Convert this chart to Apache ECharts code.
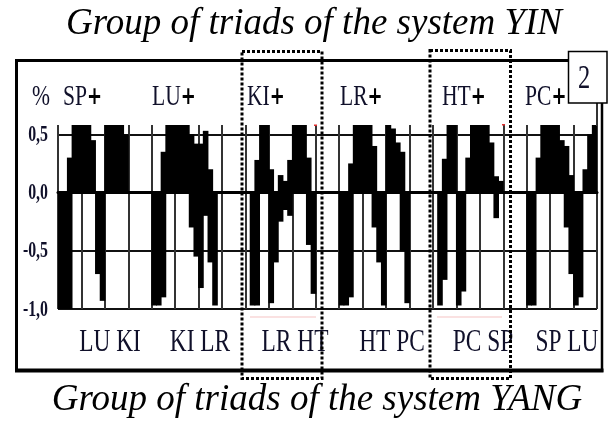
<!DOCTYPE html>
<html>
<head>
<meta charset="utf-8">
<script src="https://cdn.jsdelivr.net/npm/echarts@6/dist/echarts.min.js"></script>
<style>
  html, body { margin: 0; padding: 0; background: #fff; }
  #chart { width: 611px; height: 425px; }
</style>
</head>
<body>
<div id="chart"></div>
<script>
// upper envelope of the signal, one value per step (5 steps per grid cell)
var posValues = [
  0, 0, 0.3, 0.58, 0.58, 0.58, 0.58, 0.45, 0, 0, 0.58, 0.58, 0.58, 0.58, 0.5, 0, 0, 0, 0, 0,
  0, 0, 0.35, 0.58, 0.58, 0.58, 0.58, 0.58, 0.5, 0.42, 0.42, 0.53, 0.2, 0, 0, 0, 0, 0, 0, 0,
  0, 0, 0.28, 0.58, 0.58, 0.2, 0, 0.15, 0.1, 0.28, 0.58, 0.58, 0.58, 0.3, 0, 0, 0, 0, 0, 0,
  0, 0, 0.25, 0.58, 0.58, 0.58, 0.58, 0.4, 0, 0, 0.58, 0.55, 0.43, 0.35, 0, 0, 0, 0, 0, 0,
  0, 0, 0.29, 0.58, 0.58, 0, 0, 0.3, 0.58, 0.58, 0.58, 0.58, 0.43, 0.14, 0.1, 0, 0, 0, 0, 0,
  0, 0, 0.3, 0.58, 0.58, 0.58, 0.58, 0.45, 0.4, 0.15, 0, 0, 0.2, 0.5, 0.58
];
// lower envelope
var negValues = [
  -1, -1, -1, 0, 0, 0, 0, 0, -0.7, -0.93, 0, 0, 0, 0, 0, 0, 0, 0, 0, 0,
  -0.97, -0.97, -0.9, 0, 0, 0, 0, 0, -0.3, -0.55, -0.82, -0.2, -0.6, -0.97, 0, 0, 0, 0, 0, 0,
  0, -0.97, -0.97, 0, 0, -0.95, -0.6, -0.25, -0.15, -0.2, 0, 0, 0, -0.45, -0.87, 0, 0, 0, 0, 0,
  -0.97, -0.97, -0.9, 0, 0, 0, 0, -0.3, -0.6, -0.97, 0, 0, 0, -0.5, -0.95, 0, 0, 0, 0, 0,
  0, -0.97, -0.75, 0, 0, -0.97, -0.85, 0, 0, 0, 0, 0, 0, -0.22, 0, 0, 0, 0, 0, 0,
  -0.97, -0.97, 0, 0, 0, 0, 0, 0, -0.3, -0.7, -0.97, -0.9, 0, 0, 0
];
var yTicks = [0.5, 0, -0.5, -1];
var yinLabels = ['SP', 'LU', 'KI', 'LR', 'HT', 'PC'];
var yangLabels = ['LU KI', 'KI LR', 'LR HT', 'HT PC', 'PC SP', 'SP LU'];

var steps = [];
for (var i = 0; i < posValues.length; i++) steps.push(i);

var chart = echarts.init(document.getElementById('chart'));

// bars slightly wider than a step so neighbours join into solid blocks
var barStyle = { color: '#000' };

chart.setOption({
  animation: false,
  grid: { left: 58, right: 14, top: 125, bottom: 116 },
  xAxis: {
    type: 'category',
    data: steps,
    boundaryGap: true,
    axisLine: { onZero: true, lineStyle: { color: '#000', width: 3 } },
    axisTick: { show: false },
    axisLabel: { show: false },
    splitLine: { show: true, interval: 4, lineStyle: { color: '#333', width: 2 } }
  },
  yAxis: {
    type: 'value',
    min: -1,
    max: 0.58,
    interval: 0.5,
    axisLine: { show: false },
    axisTick: { show: false },
    axisLabel: { show: false },
    splitLine: {
      lineStyle: { color: ['#111', '#111', '#111', '#111', 'transparent'], width: 2 }
    }
  },
  series: [
    { type: 'bar', data: posValues, barWidth: 5.6, barGap: '-100%', itemStyle: barStyle },
    { type: 'bar', data: negValues, barWidth: 5.6, barGap: '-100%', itemStyle: barStyle }
  ]
});

var ink = '#10102a';
var g = [];

// titles
g.push({ type: 'text', x: 314, y: 24, style: { text: 'Group of triads of the system YIN',
  font: 'italic 37px "Liberation Serif"', fill: '#000', align: 'center', verticalAlign: 'middle' } });
g.push({ type: 'text', x: 317, y: 400.5, style: { text: 'Group of triads of the system YANG',
  font: 'italic 37px "Liberation Serif"', fill: '#000', align: 'center', verticalAlign: 'middle' } });

// outer frame
g.push({ type: 'polyline', z: 50, shape: { points: [[16.5, 371], [16.5, 60.5], [569, 60.5]] },
  style: { stroke: '#000', lineWidth: 3, fill: null } });
g.push({ type: 'line', z: 50, shape: { x1: 15, y1: 370.5, x2: 603.5, y2: 370.5 },
  style: { stroke: '#000', lineWidth: 4 } });
g.push({ type: 'line', z: 50, shape: { x1: 602, y1: 103, x2: 602, y2: 372 },
  style: { stroke: '#000', lineWidth: 2.5 } });
g.push({ type: 'line', z: 50, shape: { x1: 597, y1: 103, x2: 597, y2: 126 },
  style: { stroke: '#333', lineWidth: 2 } });

// dotted boxes
g.push({ type: 'rect', z: 60, shape: { x: 242, y: 51.5, width: 80, height: 327 },
  style: { stroke: '#000', lineWidth: 3, lineDash: [3, 2], fill: null } });
g.push({ type: 'rect', z: 60, shape: { x: 430, y: 50.5, width: 80.5, height: 328 },
  style: { stroke: '#000', lineWidth: 3, lineDash: [3, 2], fill: null } });

// panel number
g.push({ type: 'rect', z: 70, shape: { x: 568.5, y: 51.5, width: 38.5, height: 51.5 },
  style: { stroke: '#000', lineWidth: 1.5, fill: '#fff' } });
g.push({ type: 'text', z: 71, x: 584, y: 79, scaleX: 0.72, style: { text: '2',
  font: '34px "Liberation Serif"', fill: ink, align: 'center', verticalAlign: 'middle' } });

// small scan marks
g.push({ type: 'rect', z: 20, shape: { x: 314, y: 124.5, width: 3, height: 1.5 }, style: { fill: '#e03030' } });
g.push({ type: 'rect', z: 20, shape: { x: 502, y: 124, width: 3, height: 1.5 }, style: { fill: '#e03030' } });
g.push({ type: 'rect', z: 20, shape: { x: 250, y: 316.5, width: 66, height: 1 }, style: { fill: '#f5c4c4' } });
g.push({ type: 'rect', z: 20, shape: { x: 437, y: 316.5, width: 65, height: 1 }, style: { fill: '#f5c4c4' } });

// top row labels
g.push({ type: 'text', x: 32, y: 97, scaleX: 0.72, style: { text: '%',
  font: '30px "Liberation Serif"', fill: ink, align: 'left', verticalAlign: 'middle' } });
var yinX = [63, 152, 247, 340, 442, 525];
yinLabels.forEach(function (name, k) {
  g.push({ type: 'text', x: yinX[k], y: 97, scaleX: 0.72, style: {
    text: name + '{p|+}',
    fontFamily: 'Liberation Serif', fontSize: 30, fill: ink,
    align: 'left', verticalAlign: 'middle',
    rich: { p: { fontFamily: 'DejaVu Sans', fontWeight: 'bold', fontSize: 25, fill: '#000' } }
  } });
});

// bottom row labels
var yangX = [110, 200, 295, 392, 483, 567];
yangLabels.forEach(function (name, k) {
  g.push({ type: 'text', x: yangX[k], y: 343, scaleX: 0.73, style: { text: name,
    font: '32px "Liberation Serif"', fill: ink, align: 'center', verticalAlign: 'middle' } });
});

// y tick labels, placed through the axis scale
yTicks.forEach(function (v) {
  var py = chart.convertToPixel({ yAxisIndex: 0 }, v);
  g.push({ type: 'text', x: 48, y: py + 0.5, scaleX: 0.66, style: {
    text: v.toFixed(1).replace('.', ','),
    font: 'bold 24px "Liberation Serif"', fill: ink, align: 'right', verticalAlign: 'middle' } });
});

chart.setOption({ graphic: g });
</script>
</body>
</html>
